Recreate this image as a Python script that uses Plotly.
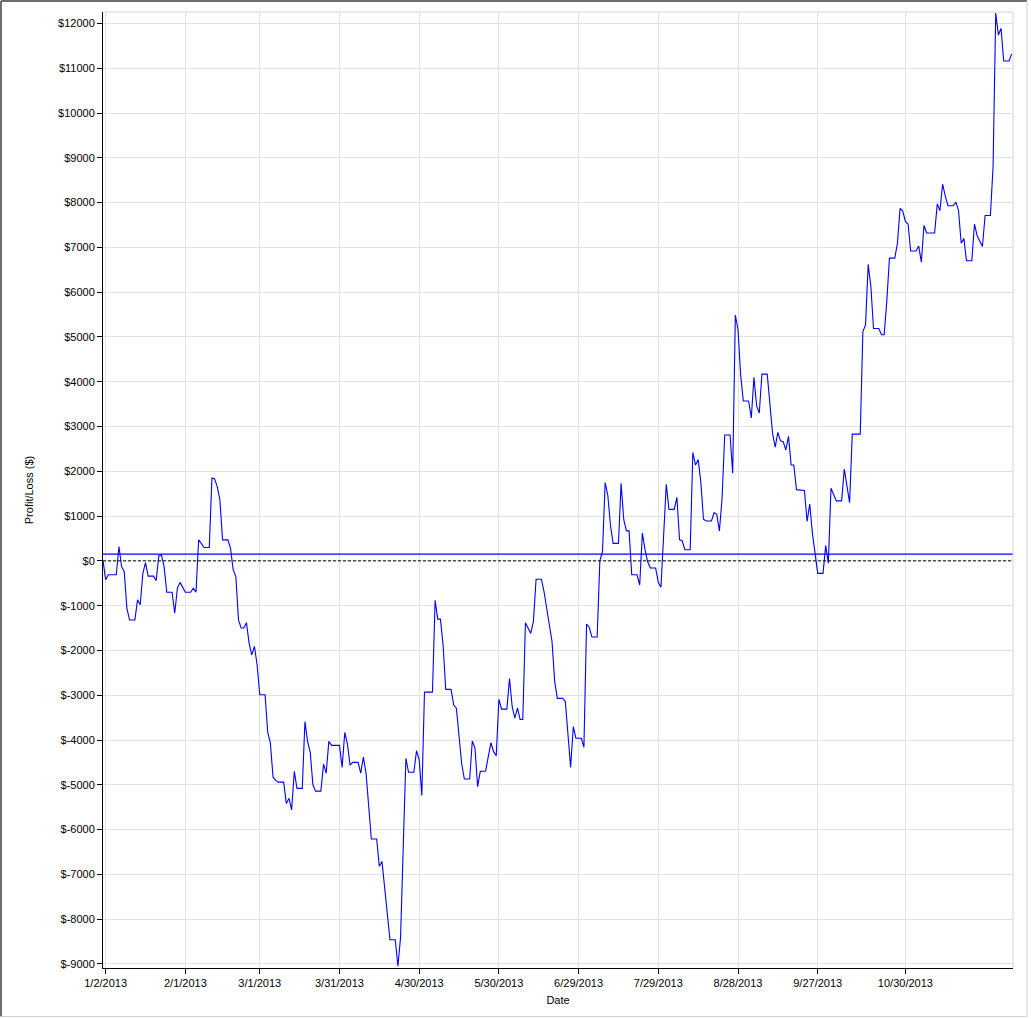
#!/usr/bin/env python3
# -*- coding: utf-8 -*-
"""
Cumulative profit/loss curve for 2013, one line, with the zero line
dashed and a reference level drawn in blue.
"""

# =============================================================================
# Imports
# =============================================================================
import pandas as pd
import plotly.graph_objs as go

# =============================================================================
# Declares
# =============================================================================
start_date = "2013-01-02"

# days counted from 1/2/2013 (one per vertex)
day_offsets = [-1, 0, 1, 4, 5, 6, 7, 8, 9, 11, 12, 13, 14, 15, 16, 18, 19, 20, 21, 22,
               23, 25, 26, 27, 28, 29, 30, 32, 33, 34, 35, 36, 37, 39, 40, 41, 42, 43, 44, 46,
               47, 48, 49, 50, 51, 52, 53, 54, 55, 56, 57, 58, 60, 61, 62, 63,
               64, 65, 67, 68, 69, 70, 71, 72, 74, 75, 76, 77, 78, 79, 81, 82, 83, 84, 85, 88,
               89, 90, 91, 92, 93, 95, 96, 97, 98, 100, 102, 103, 104, 107, 109, 110, 111, 112, 113, 114,
               116, 117, 118, 119, 120, 123, 124, 125,
               126, 127, 128, 130, 131, 132, 134, 135, 137, 138, 139, 140, 141, 143, 145, 146, 147, 148, 149, 151,
               152, 153, 154, 155, 156, 157, 158, 160, 161, 162, 164, 165, 166, 167, 168, 169, 170, 172, 173, 175,
               176, 177, 179, 180, 181, 182, 183, 185, 186, 187, 188, 189, 190, 191, 193,
               194, 195, 196, 197, 198, 200, 201, 202, 203, 204, 205, 207, 208, 209, 211, 212, 214, 215, 216, 217,
               218, 220, 221, 222, 223, 224, 225, 226, 228, 229, 230, 231, 232, 233, 235, 236, 237, 238, 239, 240,
               242, 243, 244, 245, 246, 247, 249, 250,
               251, 252, 253, 254, 255, 256, 257, 258, 259, 260, 263, 264, 265, 266, 267, 268, 270, 271, 272, 273,
               275, 277, 278, 279, 280, 281, 284, 285, 286, 287, 288, 289, 291, 292, 293, 294, 295, 297, 298, 299,
               300, 301, 302,
               303, 305, 306, 307, 308, 309, 312, 313, 314, 315, 316, 317, 319, 320, 321, 322, 323, 324, 326, 327,
               328, 330, 331, 333, 334, 335, 336, 337, 338, 340, 341]

# cumulative profit/loss in $
pnl = [0, -420, -310, -310, 320, -130, -240, -1060, -1320, -1320, -870, -980, -280, -40, -340, -340, -440, 110, 130, -130,
       -700, -700, -1170, -610, -480, -610, -700, -700, -610, -700, 470, 390, 300, 300, 1850, 1830, 1660, 1360, 470, 470,
       280, -200, -350, -1320, -1500, -1500, -1380, -1840, -2100, -1910, -2320, -2990, -2990, -3830, -4070, -4830,
       -4900, -4940, -4940, -5420, -5300, -5560, -4700, -5080, -5080, -3590, -4030, -4270, -5000, -5140, -5140, -4540, -4740, -4030, -4120, -4120,
       -4610, -3830, -4090, -4560, -4500, -4500, -4740, -4380, -4740, -6210, -6210, -6820, -6710, -8460, -8460, -9050, -8400, -6400, -4410, -4720,
       -4720, -4240, -4440, -5240, -2930, -2930, -880, -1300,
       -1300, -1880, -2870, -2870, -3220, -3290, -4530, -4870, -4870, -4020, -4180, -5040, -4700, -4690, -4060, -4260, -4350, -3090, -3310, -3310,
       -2630, -3250, -3510, -3290, -3540, -3540, -1380, -1620, -1350, -410, -410, -690, -1080, -1390, -1800, -2690, -3070, -3070, -3140, -4610,
       -3700, -3960, -3960, -4160, -1410, -1480, -1700, -1700, 0, 210, 1750, 1460, 790, 390, 390,
       1730, 920, 670, 670, -310, -310, -540, 620, 250, -20, -160, -160, -480, -590, 1710, 1150, 1150, 1420, 470, 450,
       250, 250, 2420, 2140, 2260, 1770, 930, 890, 890, 1080, 1040, 670, 1400, 2810, 2810, 1960, 5490, 5160, 4150, 3570,
       3570, 3190, 4100, 3460, 3300, 4170, 4170, 3420,
       2850, 2540, 2870, 2680, 2660, 2480, 2780, 2140, 2140, 1590, 1570, 880, 1270, 620, 210, -280, -280, 340, -50, 1620,
       1340, 1340, 2050, 1700, 1300, 2830, 2830, 5120, 5270, 6620, 6130, 5190, 5190, 5050, 5050, 5800, 6760, 6760, 7090, 7870,
       7810, 7580, 7520,
       6920, 6920, 7030, 6670, 7490, 7320, 7320, 7970, 7820, 8410, 8150, 7930, 7930, 8010, 7820, 7090, 7200, 6700, 6700, 7520,
       7260, 7020, 7710, 7710, 8800, 12230, 11740, 11890, 11160, 11160, 11320]

reference_level = 150   # solid blue level line
zero_level = 0          # dashed line

x_tick_dates = ["2013-01-02", "2013-02-01", "2013-03-01", "2013-03-31", "2013-04-30", "2013-05-30",
                "2013-06-29", "2013-07-29", "2013-08-28", "2013-09-27", "2013-10-30"]
x_tick_labels = ["1/2/2013", "2/1/2013", "3/1/2013", "3/31/2013", "4/30/2013", "5/30/2013",
                 "6/29/2013", "7/29/2013", "8/28/2013", "9/27/2013", "10/30/2013"]
y_tick_values = [-9000, -8000, -7000, -6000, -5000, -4000, -3000, -2000, -1000, 0,
                 1000, 2000, 3000, 4000, 5000, 6000, 7000, 8000, 9000, 10000, 11000, 12000]
y_tick_labels = ["$" + str(v) for v in y_tick_values]

x_range = ["2013-01-01", "2013-12-09 12:00"]
y_range = [-9090, 12255]

FONT = "Liberation Sans, Arial, sans-serif"
GRID = "#e1e1e1"

# =============================================================================
# Build figure
# =============================================================================
dates = pd.Timestamp(start_date) + pd.to_timedelta(day_offsets, unit="D")

fig = go.Figure()
fig.add_trace(go.Scatter(x=dates, y=pnl, mode="lines",
                         line=dict(color="#0000ff", width=1.1),
                         hoverinfo="x+y", showlegend=False))

shapes = []
# blue level and dashed zero line across the plot
shapes.append(dict(type="line", xref="paper", yref="y", x0=0, x1=1,
                   y0=reference_level, y1=reference_level,
                   line=dict(color="#0000ff", width=1.2)))
shapes.append(dict(type="line", xref="paper", yref="y", x0=0, x1=1,
                   y0=zero_level, y1=zero_level,
                   line=dict(color="black", width=1, dash="3px,2px")))
# light frame on top/right of the plot area
shapes.append(dict(type="line", xref="paper", yref="paper", x0=0, x1=1, y0=1, y1=1,
                   line=dict(color="#d4d4d4", width=1)))
shapes.append(dict(type="line", xref="paper", yref="paper", x0=1, x1=1, y0=0, y1=1,
                   line=dict(color="#d4d4d4", width=1)))
# outer window border (dark top/left, light bottom/right)
shapes.append(dict(type="line", xref="paper", yref="paper", x0=-0.1121, x1=1.0154, y0=1.0115, y1=1.0115,
                   line=dict(color="#6e6e6e", width=2)))
shapes.append(dict(type="line", xref="paper", yref="paper", x0=-0.1121, x1=-0.1121, y0=-0.0507, y1=1.0115,
                   line=dict(color="#6e6e6e", width=2)))
shapes.append(dict(type="line", xref="paper", yref="paper", x0=-0.1121, x1=1.0154, y0=-0.0507, y1=-0.0507,
                   line=dict(color="#d0d0d0", width=1)))
shapes.append(dict(type="line", xref="paper", yref="paper", x0=1.0154, x1=1.0154, y0=-0.0507, y1=1.0115,
                   line=dict(color="#d0d0d0", width=1)))

fig.update_layout(
    width=1031, height=1019,
    margin=dict(l=103, r=18, t=12, b=51, autoexpand=False),
    paper_bgcolor="white", plot_bgcolor="white",
    font=dict(family=FONT, size=11, color="black"),
    showlegend=False,
    shapes=shapes,
    xaxis=dict(type="date", range=x_range,
               tickmode="array", tickvals=x_tick_dates, ticktext=x_tick_labels,
               ticks="outside", ticklen=5, tickcolor="black", tickwidth=1,
               showline=True, linecolor="black", linewidth=1,
               showgrid=True, gridcolor=GRID, gridwidth=1, zeroline=False,
               title=dict(text="Date", standoff=8, font=dict(size=11))),
    yaxis=dict(range=y_range,
               tickmode="array", tickvals=y_tick_values, ticktext=y_tick_labels,
               ticks="outside", ticklen=5, tickcolor="black", tickwidth=1,
               showline=True, linecolor="black", linewidth=1,
               showgrid=True, gridcolor=GRID, gridwidth=1, zeroline=False,
               title=dict(text="Profit/Loss ($)", standoff=22, font=dict(size=11))),
)

# page body has an 8px default margin; drop it so the figure sits at 0,0
fig.write_html("out.html", config={"displayModeBar": False},
               post_script="document.body.style.margin='0';document.body.style.overflow='hidden';")
